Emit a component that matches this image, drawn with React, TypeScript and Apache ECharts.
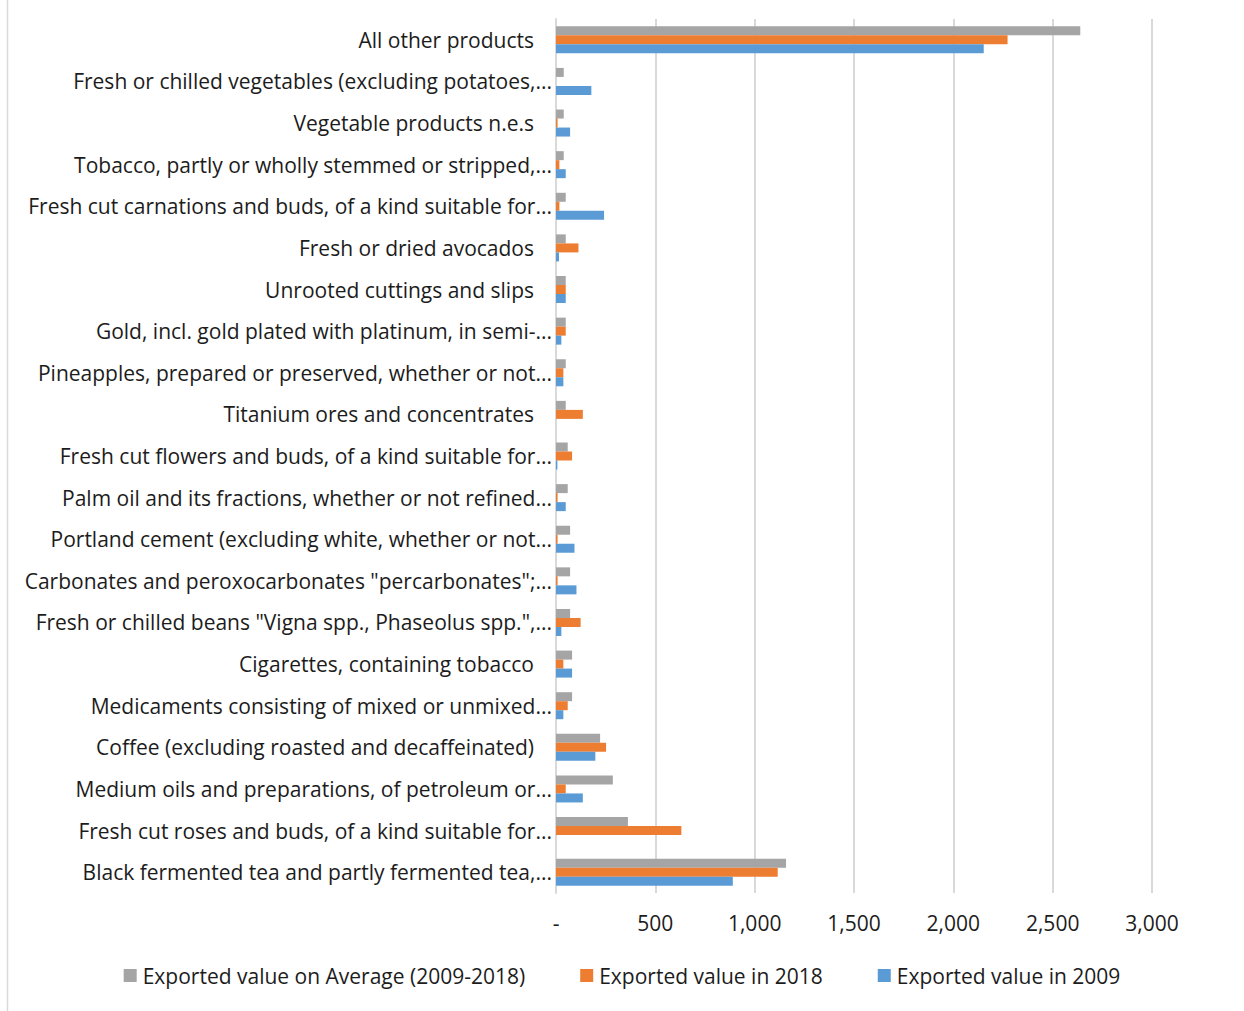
import React, { useEffect, useRef } from "react";
import * as echarts from "echarts";

// Product categories, listed top to bottom
const categories: string[] = [
  "All other products",
  "Fresh or chilled vegetables (excluding potatoes,...",
  "Vegetable products n.e.s",
  "Tobacco, partly or wholly stemmed or stripped,...",
  "Fresh cut carnations and buds, of a kind suitable for...",
  "Fresh or dried avocados",
  "Unrooted cuttings and slips",
  "Gold, incl. gold plated with platinum, in semi-...",
  "Pineapples, prepared or preserved, whether or not...",
  "Titanium ores and concentrates",
  "Fresh cut flowers and buds, of a kind suitable for...",
  "Palm oil and its fractions, whether or not refined...",
  "Portland cement (excluding white, whether or not...",
  "Carbonates and peroxocarbonates \"percarbonates\";...",
  "Fresh or chilled beans \"Vigna spp., Phaseolus spp.\",...",
  "Cigarettes, containing tobacco",
  "Medicaments consisting of mixed or unmixed...",
  "Coffee (excluding roasted and decaffeinated)",
  "Medium oils and preparations, of petroleum or...",
  "Fresh cut roses and buds, of a kind suitable for...",
  "Black fermented tea and partly fermented tea,...",
];

const averageValues: number[] = [
  2639, 39, 39, 39, 49, 49, 49, 49, 49, 49, 59, 59, 71, 71, 71, 81, 81, 222, 286, 362, 1158,
];
const values2018: number[] = [
  2273, 0, 8, 17, 17, 113, 49, 49, 37, 135, 81, 8, 8, 8, 124, 37, 59, 252, 49, 631, 1116,
];
const values2009: number[] = [
  2153, 178, 71, 49, 242, 15, 49, 27, 37, 0, 7, 49, 93, 103, 27, 81, 37, 198, 135, 0, 890,
];

const seriesNames: string[] = [
  "Exported value on Average (2009-2018)",
  "Exported value in 2018",
  "Exported value in 2009",
];
const seriesColors: string[] = ["#a5a5a5", "#ed7d31", "#5b9bd5"];

const FONT = "'Open Sans', 'Noto Sans', sans-serif";
const TEXT = "#1c1c1c";
const FS = 21;

export default function App() {
  const ref = useRef<HTMLDivElement>(null);

  useEffect(() => {
    if (!ref.current) return;
    const chart = echarts.init(ref.current, undefined, { renderer: "svg" });
    const seriesData = [averageValues, values2018, values2009];

    chart.setOption({
      animation: false,
      backgroundColor: "#ffffff",
      textStyle: { fontFamily: FONT, color: TEXT },
      grid: { left: 556, right: 92, top: 19, bottom: 118, containLabel: false },
      graphic: [
        {
          type: "line",
          shape: { x1: 7.5, y1: 0, x2: 7.5, y2: 1011 },
          style: { stroke: "#d9d9d9", lineWidth: 1.5 },
          silent: true,
        },
      ],
      legend: {
        bottom: 20,
        left: "center",
        itemWidth: 13,
        itemHeight: 13,
        itemGap: 55,
        icon: "rect",
        textStyle: { fontFamily: FONT, fontSize: FS, color: TEXT, padding: [0, 0, 0, 1] },
        data: seriesNames,
      },
      xAxis: {
        type: "value",
        min: 0,
        max: 3000,
        interval: 500,
        axisLine: { show: false },
        axisTick: { show: false },
        splitLine: { lineStyle: { color: "#d9d9d9", width: 2 } },
        axisLabel: {
          margin: 19,
          fontFamily: FONT,
          fontSize: FS,
          color: TEXT,
          formatter: (v: number) => (v === 0 ? "-" : v.toLocaleString("en-US")),
        },
      },
      yAxis: {
        type: "category",
        inverse: true,
        data: categories,
        axisLine: { show: true, lineStyle: { color: "#d9d9d9", width: 2 } },
        axisTick: { show: false },
        axisLabel: {
          margin: 4,
          fontFamily: FONT,
          fontSize: FS,
          color: TEXT,
          formatter: (v: string) => (v.endsWith("...") ? `{e|${v}}` : `{n|${v}}`),
          rich: {
            e: { fontFamily: FONT, fontSize: FS, color: TEXT },
            n: { fontFamily: FONT, fontSize: FS, color: TEXT, padding: [0, 18, 0, 0] },
          },
        },
      },
      series: seriesNames.map((name, i) => ({
        name,
        type: "bar",
        data: seriesData[i],
        barWidth: 9,
        barGap: "0%",
        itemStyle: { color: seriesColors[i] },
      })),
    });

    return () => chart.dispose();
  }, []);

  return (
    <div
      ref={ref}
      style={{ position: "fixed", left: 0, top: 0, width: 1244, height: 1011, background: "#fff" }}
    />
  );
}
